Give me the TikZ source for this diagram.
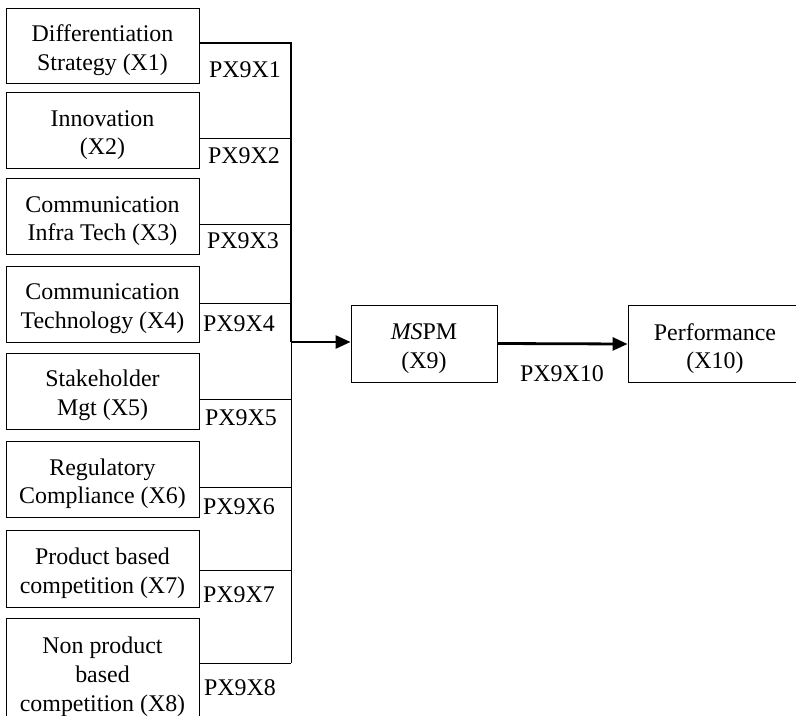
\documentclass[tikz,border=0pt]{standalone}
\usepackage{fontspec}
\setmainfont{Liberation Serif}
\usetikzlibrary{arrows.meta}
\newcommand{\tpad}{\rule{0pt}{26bp}}
\begin{document}
\begin{tikzpicture}[x=1bp,y=-1bp,
  box/.style={draw,line width=0.9bp,rectangle,align=center,inner sep=0pt,
    font=\fontsize{24}{29}\selectfont},
  lbl/.style={inner sep=0pt,font=\fontsize{24}{29}\selectfont},
  thin/.style={line width=0.9bp},
  thick/.style={line width=2.8bp},
  arr/.style={thick,-{Triangle[length=15bp,width=13bp]}}]
\useasboundingbox (0,0) rectangle (796,716);
\clip (0,0) rectangle (796,716);
% left boxes
\node[box,minimum width=193bp,minimum height=75bp] (x1) at (102.5,45.5) {\tpad Differentiation\\Strategy (X1)};
\node[box,minimum width=193bp,minimum height=76bp] (x2) at (102.5,130) {\tpad Innovation\\(X2)};
\node[box,minimum width=193bp,minimum height=76bp] (x3) at (102.5,216) {\tpad Communication\\Infra Tech (X3)};
\node[box,minimum width=193bp,minimum height=76bp] (x4) at (102.5,304) {\tpad Communication\\Technology (X4)};
\node[box,minimum width=193bp,minimum height=76bp] (x5) at (102.5,391) {\tpad Stakeholder\\Mgt (X5)};
\node[box,minimum width=193bp,minimum height=76bp] (x6) at (102.5,479) {\tpad Regulatory\\Compliance (X6)};
\node[box,minimum width=193bp,minimum height=77bp] (x7) at (102.5,568.5) {\tpad Product based\\competition (X7)};
\node[box,minimum width=193bp,minimum height=108bp] (x8) at (102.5,672) {\tpad Non product\\based\\competition (X8)};
% right boxes
\node[box,minimum width=146bp,minimum height=77bp] (x9) at (424,343.5) {\tpad\textit{MS}PM\\(X9)};
\node[box,minimum width=174bp,minimum height=77bp] (x10) at (715,344) {\tpad Performance\\(X10)};
% bus junctions
\coordinate (j1) at (291,43);
\coordinate (j2) at (291,138);
\coordinate (j3) at (291,224);
\coordinate (j4) at (291,303);
\coordinate (j5) at (291,399);
\coordinate (j6) at (291,487);
\coordinate (j7) at (291,570);
\coordinate (j8) at (291,663);
\coordinate (jm) at (291,342);
% thin connectors
\draw[thin] (j1) -- (j8);
\foreach \i in {2,...,8} {\draw[thin] (x\i.east |- j\i) -- (j\i);}
% thick path
\draw[thick,line join=miter] (x1.east |- j1) -- (j1) -- (jm);
\draw[arr] (jm) -- (x9.west |- jm);
\draw[arr] (x9.east) -- (x10.west);
% labels
\node[lbl] (p1) at (245,70) {PX9X1};
\node[lbl] (p2) at (244,156) {PX9X2};
\node[lbl] (p3) at (243,241) {PX9X3};
\node[lbl] (p4) at (239,324) {PX9X4};
\node[lbl] (p5) at (241,418) {PX9X5};
\node[lbl] (p6) at (239,507) {PX9X6};
\node[lbl] (p7) at (239,595) {PX9X7};
\node[lbl] (p8) at (240,688) {PX9X8};
\node[lbl] (p10) at (562,374) {PX9X10};
\end{tikzpicture}
\end{document}
